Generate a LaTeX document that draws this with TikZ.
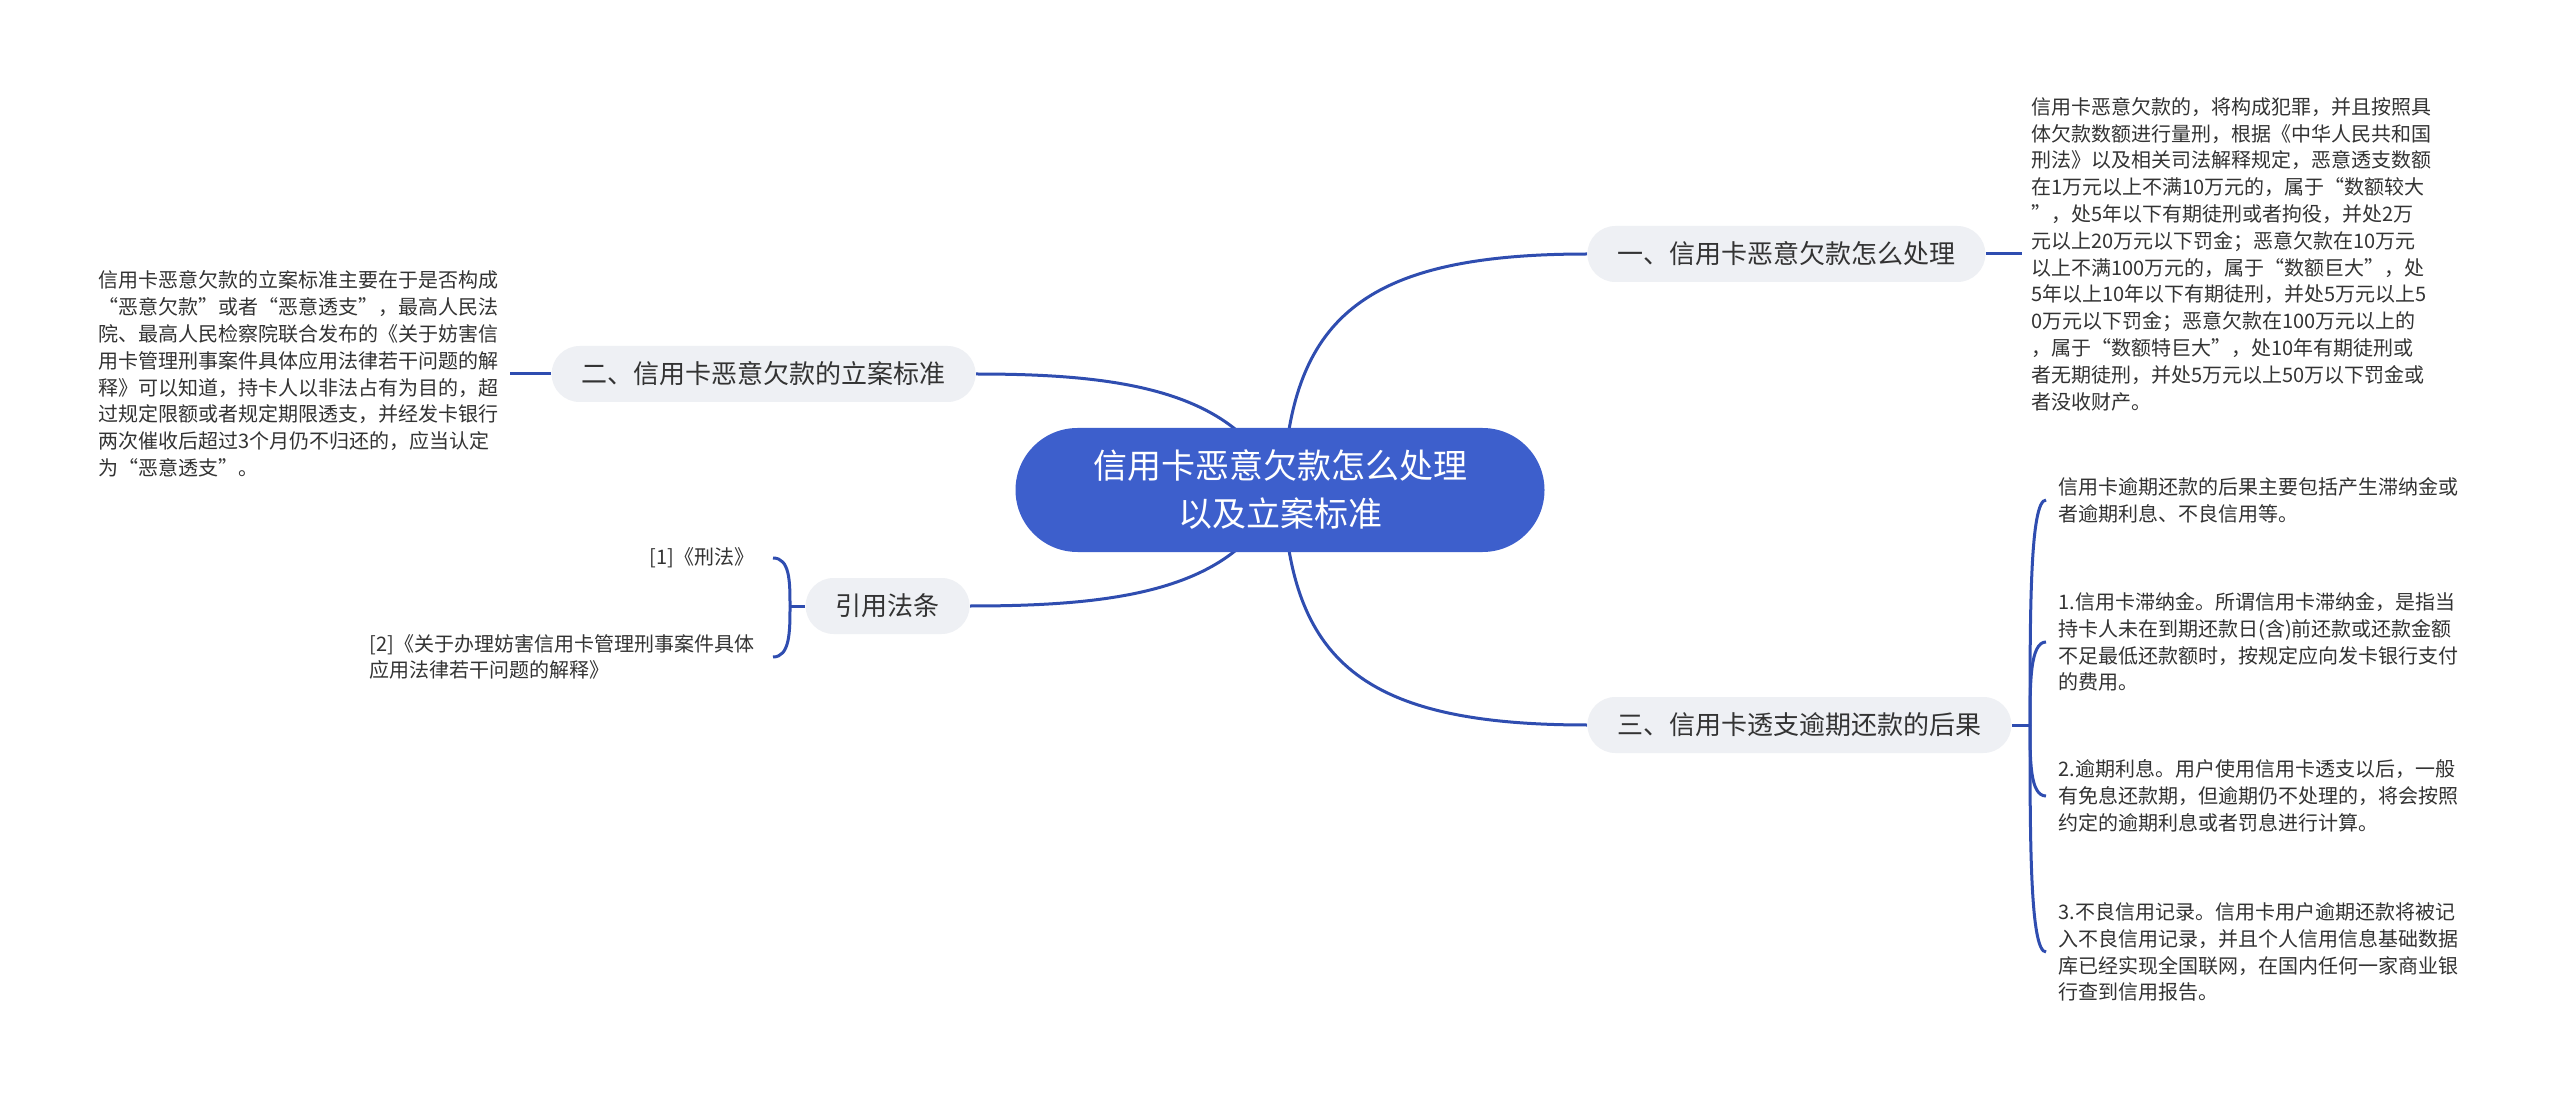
\documentclass[tikz,border=0pt]{standalone}
\usepackage{fontspec}
\setmainfont{Noto Sans CJK SC}
\usetikzlibrary{calc}
\definecolor{cfill}{HTML}{3D5FCC}
\definecolor{cline}{HTML}{2F4DB0}
\definecolor{pillc}{HTML}{EEF0F4}
\definecolor{txt}{HTML}{333333}
\pgfdeclarelayer{bg}
\pgfsetlayers{bg,main}
\begin{document}
\begin{tikzpicture}[x=0.5pt,y=-0.5pt,
  central/.style={fill=cfill, text=white, rounded corners=31pt, minimum width=264.5pt, minimum height=62pt, inner sep=0pt, align=center, font=\fontsize{17pt}{24pt}\selectfont},
  branch/.style={fill=pillc, text=txt, rounded corners=14pt, minimum height=28pt, inner xsep=15pt, inner ysep=0pt, font=\fontsize{13pt}{16pt}\selectfont},
  leaf/.style={text=txt, align=left, inner ysep=0pt, font=\fontsize{10pt}{13.4pt}\selectfont},
  link/.style={draw=cline, line width=1.5pt}
]
\begin{pgfonlayer}{bg}
\fill[white] (0,0) rectangle (2560,1101);
\end{pgfonlayer}
\useasboundingbox (0,0) rectangle (2560,1101);

% central topic
\node[central] (C) at (1280,490) {信用卡恶意欠款怎么处理\\以及立案标准};

% main branches
\node[branch, anchor=west] (B1) at (1587,254) {一、信用卡恶意欠款怎么处理};
\node[branch, anchor=east] (B2) at (976,374) {二、信用卡恶意欠款的立案标准};
\node[branch, anchor=west] (B3) at (1587,725) {三、信用卡透支逾期还款的后果};
\node[branch, anchor=east] (B4) at (970,606) {引用法条};

% leaves of branch 1
\node[leaf, anchor=west, inner xsep=4.5pt] (L1) at (2022,254) {信用卡恶意欠款的，将构成犯罪，并且按照具\\
体欠款数额进行量刑，根据《中华人民共和国\\
刑法》以及相关司法解释规定，恶意透支数额\\
在1万元以上不满10万元的，属于“数额较大\\
”，处5年以下有期徒刑或者拘役，并处2万\\
元以上20万元以下罚金；恶意欠款在10万元\\
以上不满100万元的，属于“数额巨大”，处\\
5年以上10年以下有期徒刑，并处5万元以上5\\
0万元以下罚金；恶意欠款在100万元以上的\\
，属于“数额特巨大”，处10年有期徒刑或\\
者无期徒刑，并处5万元以上50万以下罚金或\\
者没收财产。};

% leaf of branch 2
\node[leaf, anchor=west, inner xsep=5.5pt] (L2) at (87,374) {信用卡恶意欠款的立案标准主要在于是否构成\\
“恶意欠款”或者“恶意透支”，最高人民法\\
院、最高人民检察院联合发布的《关于妨害信\\
用卡管理刑事案件具体应用法律若干问题的解\\
释》可以知道，持卡人以非法占有为目的，超\\
过规定限额或者规定期限透支，并经发卡银行\\
两次催收后超过3个月仍不归还的，应当认定\\
为“恶意透支”。};

% leaves of branch 3
\node[leaf, anchor=west, inner xsep=6pt] (La) at (2046,500) {信用卡逾期还款的后果主要包括产生滞纳金或\\
者逾期利息、不良信用等。};
\node[leaf, anchor=west, inner xsep=6pt] (Lb) at (2046,642) {1.信用卡滞纳金。所谓信用卡滞纳金，是指当\\
持卡人未在到期还款日(含)前还款或还款金额\\
不足最低还款额时，按规定应向发卡银行支付\\
的费用。};
\node[leaf, anchor=west, inner xsep=6pt] (Lc) at (2046,796) {2.逾期利息。用户使用信用卡透支以后，一般\\
有免息还款期，但逾期仍不处理的，将会按照\\
约定的逾期利息或者罚息进行计算。};
\node[leaf, anchor=west, inner xsep=6pt] (Ld) at (2046,952) {3.不良信用记录。信用卡用户逾期还款将被记\\
入不良信用记录，并且个人信用信息基础数据\\
库已经实现全国联网，在国内任何一家商业银\\
行查到信用报告。};

% leaves of branch 4
\node[leaf, anchor=east, inner xsep=9pt] (R1) at (773,558) {[1]《刑法》};
\node[leaf, anchor=east, inner xsep=9pt] (R2) at (773,657) {[2]《关于办理妨害信用卡管理刑事案件具体\\
应用法律若干问题的解释》};

\coordinate (J3) at (2030,725);
\coordinate (J4) at (790,606);

\begin{pgfonlayer}{bg}
  % central to branches
  \draw[link] ($(C.center)+(3,0)$) .. controls (1290,320) and (1360,254) .. (B1.west);
  \draw[link] (C.center) .. controls (1240,390) and (1120,374) .. (B2.east);
  \draw[link] ($(C.center)+(3,0)$) .. controls (1290,660) and (1360,725) .. (B3.west);
  \draw[link] (C.center) .. controls (1240,590) and (1120,606) .. (B4.east);
  % branch 1 and 2 to leaves
  \draw[link] (B1.east) -- (L1.west);
  \draw[link] (B2.west) -- (L2.east);
  % branch 3 bracket
  \draw[link] (B3.east) -- (J3);
  \foreach \n in {La,Lb,Lc,Ld}{
    \draw[link] (J3) .. controls ($(J3)!.5!(J3|-\n.west)$) and (J3|-\n.west) .. (\n.west);
  }
  % branch 4 bracket
  \draw[link] (B4.west) -- (J4);
  \foreach \n in {R1,R2}{
    \draw[link] (J4) .. controls ($(J4)!.5!(J4|-\n.east)$) and (J4|-\n.east) .. (\n.east);
  }
\end{pgfonlayer}
\end{tikzpicture}
\end{document}
